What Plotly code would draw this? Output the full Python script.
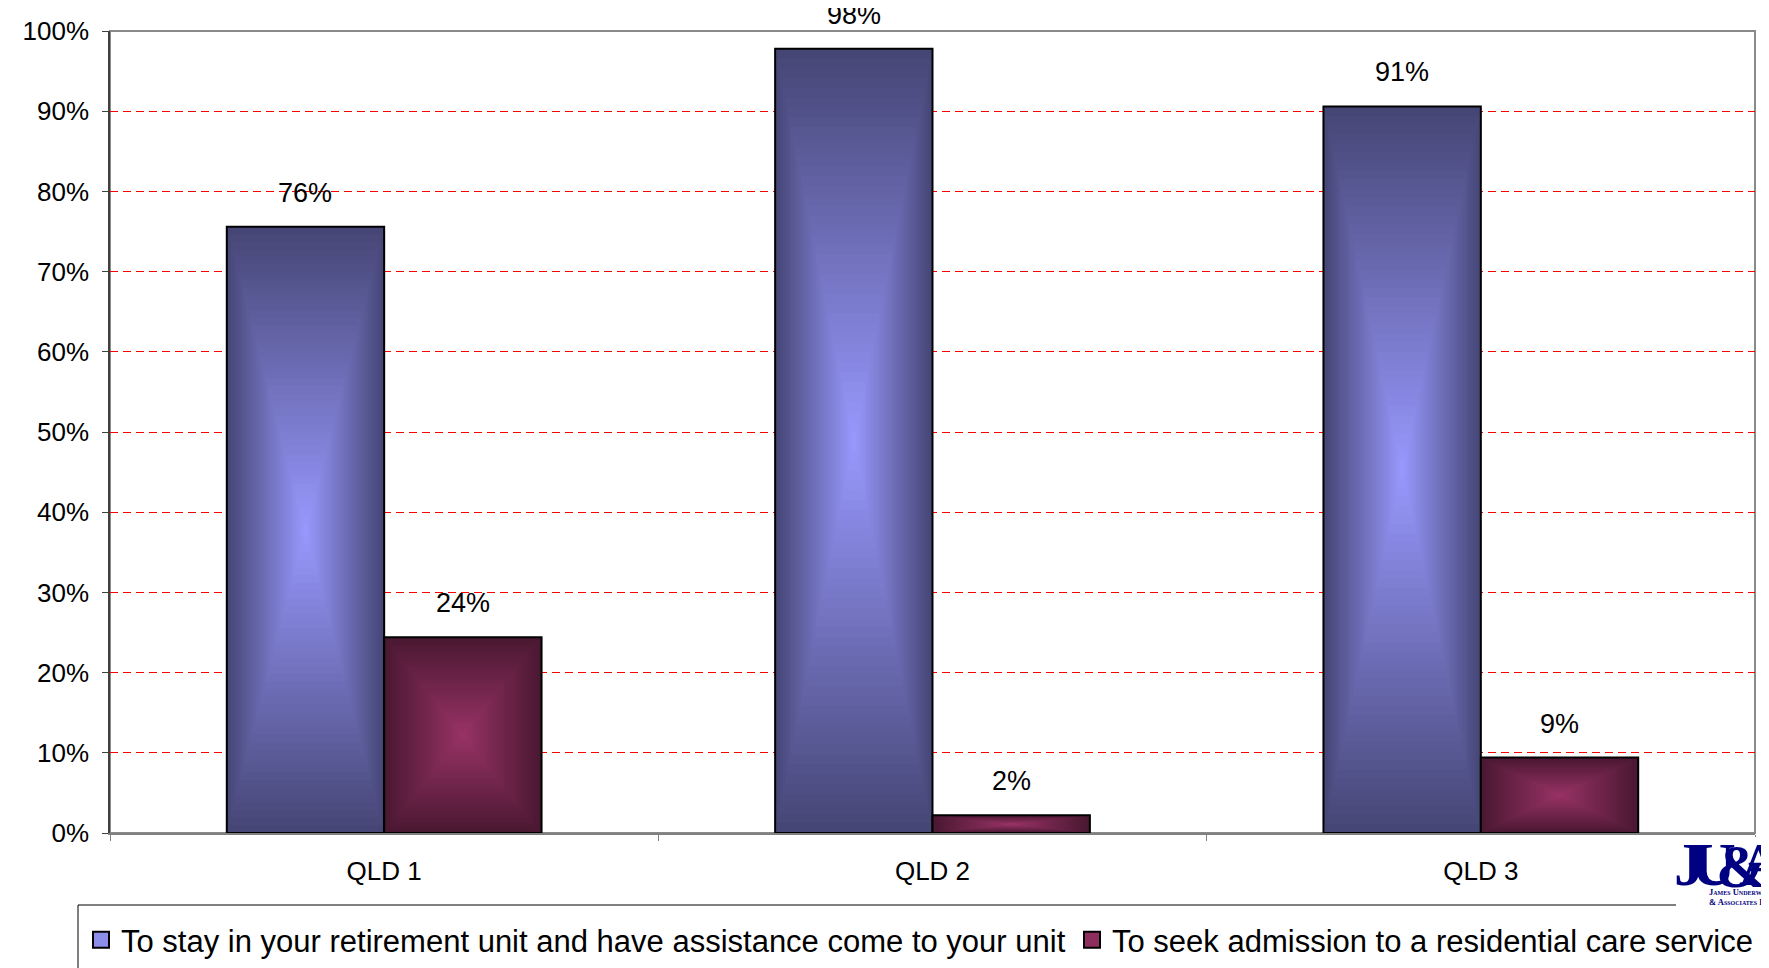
import plotly.graph_objects as go

# ---------------- data ----------------
categories = ["QLD 1", "QLD 2", "QLD 3"]
stay_name = "To stay in your retirement unit and have assistance come to your unit"
seek_name = "To seek admission to a residential care service"
stay_values = [75.6, 97.8, 90.6]
seek_values = [24.4, 2.2, 9.4]
y_tick_values = [0, 10, 20, 30, 40, 50, 60, 70, 80, 90, 100]
y_tick_labels = ["0%", "10%", "20%", "30%", "40%", "50%", "60%", "70%", "80%", "90%", "100%"]
logo_letters = ["J", "U", "&amp;", "A"]
logo_lines = ["James Underwood", "&amp; Associates Pty Ltd"]

# ---------------- style ----------------
W, H = 1769, 968
ML, MR, MT, MB = 102, 22, 23, 143
PW = W - ML - MR
PH = H - MT - MB
FONT = "Liberation Sans, Arial, sans-serif"
SERIF = "Liberation Serif, Times New Roman, serif"
BAR_W = 0.287
LEVELS = 40


def px_x(p):
    return (p - ML) / PW


def px_y(p):
    return (H - MB - p) / PH


def lerp(c1, c2, t):
    return "rgb(%d,%d,%d)" % tuple(round(a + (b - a) * t) for a, b in zip(c1, c2))


series = [
    dict(name=stay_name, values=stay_values, offset=-BAR_W,
         dark=(70, 70, 118), light=(153, 153, 255), legend="legend", lx=73),
    dict(name=seek_name, values=seek_values, offset=0.0,
         dark=(74, 24, 50), light=(153, 51, 102), legend="legend2", lx=1064),
]

fig = go.Figure()

# gradient bars: concentric rectangles from outer edge (dark) to centre (light)
for s in series:
    for k in range(LEVELS):
        t = k / LEVELS
        frac = 1 - t
        width = BAR_W * frac
        off = s["offset"] + (BAR_W - width) / 2
        fig.add_trace(go.Bar(
            x=categories,
            y=[v * frac for v in s["values"]],
            base=[v * t / 2 for v in s["values"]],
            width=width, offset=off,
            marker=dict(color=lerp(s["dark"], s["light"], t), line=dict(width=0)),
            showlegend=False, hoverinfo="skip",
        ))
    # outline
    fig.add_trace(go.Bar(
        x=categories, y=s["values"], width=BAR_W, offset=s["offset"],
        marker=dict(color="rgba(0,0,0,0)", line=dict(color="black", width=2)),
        showlegend=False, name=s["name"],
    ))

# legend entries (one legend per series so each can be placed like the original)
for s in series:
    fig.add_trace(go.Scatter(
        x=[None], y=[None], mode="markers", name=s["name"], legend=s["legend"],
        marker=dict(symbol="square", size=18, color=lerp(s["dark"], s["light"], 0.85),
                    line=dict(color="black", width=2)),
    ))

# data labels
annotations = []
for s in series:
    for i, v in enumerate(s["values"]):
        annotations.append(dict(
            x=i + s["offset"] + BAR_W / 2, y=v, xref="x", yref="y",
            text=f"{v:.0f}%", showarrow=False, yshift=34, yanchor="middle",
            font=dict(family=FONT, size=27, color="black"),
        ))

# logo (letters overlap as in the original mark)
logo_x = [1681, 1705, 1734, 1753]
logo_y = [856, 856, 858, 856]
for ch, lx, ly in zip(logo_letters, logo_x, logo_y):
    annotations.append(dict(
        x=px_x(lx), y=px_y(ly), xref="paper", yref="paper", text=f"<b>{ch}</b>",
        showarrow=False, xanchor="center", yanchor="middle",
        font=dict(family=SERIF, size=62, color="#000080")))
for line, ly in zip(logo_lines, [884, 894]):
    annotations.append(dict(
        x=px_x(1699), y=px_y(ly), xref="paper", yref="paper", text=f"<b>{line}</b>",
        showarrow=False, xanchor="left", yanchor="middle",
        font=dict(family=SERIF, size=8.5, color="#000080", variant="small-caps")))

shapes = [
    # plot border (top / right)
    dict(type="rect", xref="paper", yref="paper", x0=0, x1=1, y0=0, y1=1,
         line=dict(color="#8a8a8a", width=2), layer="between"),
    # legend box
    dict(type="rect", xref="paper", yref="paper",
         x0=px_x(70), x1=px_x(1766), y0=px_y(1010), y1=px_y(897),
         line=dict(color="black", width=1), layer="above"),
    # logo background
    dict(type="rect", xref="paper", yref="paper",
         x0=px_x(1668), x1=px_x(1780), y0=px_y(899), y1=px_y(829),
         fillcolor="white", line=dict(width=0), layer="above"),
]

legend_common = dict(orientation="h", xanchor="left", yanchor="middle", y=px_y(932),
                     font=dict(family=FONT, size=31, color="black"),
                     bgcolor="rgba(0,0,0,0)", borderwidth=0, itemsizing="trace")

fig.update_layout(
    width=W, height=H,
    margin=dict(l=ML, r=MR, t=MT, b=MB, autoexpand=False),
    paper_bgcolor="white", plot_bgcolor="white",
    barmode="overlay",
    font=dict(family=FONT, size=26, color="black"),
    showlegend=True,
    legend=dict(x=px_x(series[0]["lx"]), **legend_common),
    legend2=dict(x=px_x(series[1]["lx"]), **legend_common),
    xaxis=dict(type="category", range=[-0.5, 2.5], tickson="boundaries",
               ticks="outside", ticklen=6, tickcolor="#808080",
               showline=True, linecolor="#808080", linewidth=1.5,
               showgrid=False, zeroline=False, ticklabelstandoff=14,
               tickfont=dict(family=FONT, size=26, color="black")),
    yaxis=dict(range=[0, 100], tickvals=y_tick_values, ticktext=y_tick_labels,
               showgrid=True, gridcolor="#ff0000", gridwidth=1, griddash="8px,5px",
               showline=True, linecolor="#404040", linewidth=1.5,
               ticks="outside", ticklen=6, tickcolor="#404040",
               zeroline=False, ticklabelstandoff=8,
               tickfont=dict(family=FONT, size=26, color="black")),
    annotations=annotations,
    shapes=shapes,
)

fig.write_html("out.html")
